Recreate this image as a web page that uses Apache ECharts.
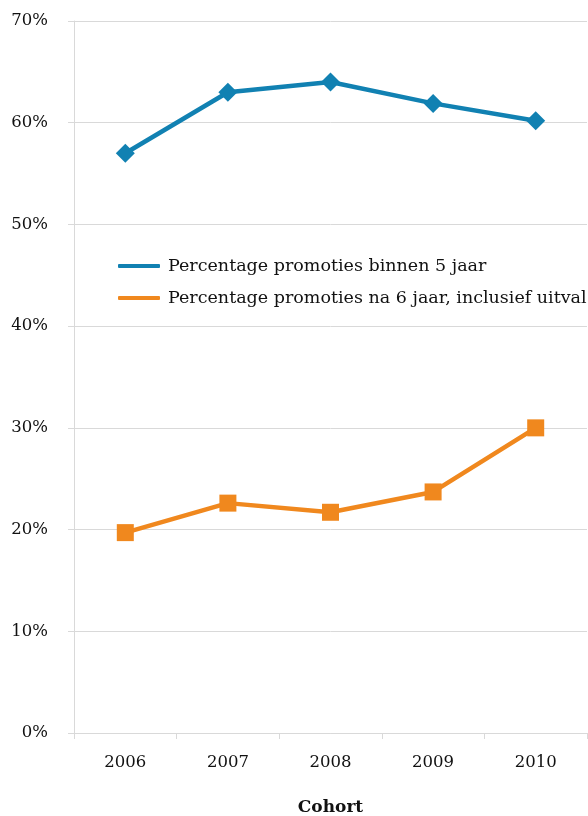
<!DOCTYPE html>
<html>
<head>
<meta charset="utf-8">
<script src="https://cdn.jsdelivr.net/npm/echarts@6/dist/echarts.min.js"></script>
<style>
  html, body { margin: 0; padding: 0; background: #fff; }
  #chart { width: 588px; height: 816px; }
</style>
</head>
<body>
<div id="chart"></div>
<script>
// cohorts on the x axis
const cohorts = ['2006', '2007', '2008', '2009', '2010']
// percentage values per series
const binnen5Jaar = [57.0, 63.0, 64.0, 61.9, 60.2]
const na6Jaar = [19.7, 22.6, 21.7, 23.7, 30.0]
const seriesNames = [
  'Percentage promoties binnen 5 jaar',
  'Percentage promoties na 6 jaar, inclusief uitval'
]

const font = 'DejaVu Serif'
const gridColor = '#d9d9d9'

const chart = echarts.init(document.getElementById('chart'))
chart.setOption({
  animation: false,
  grid: { left: 74, right: 1, top: 21, bottom: 83, containLabel: false, outerBoundsMode: 'none' },
  legend: {
    orient: 'vertical',
    left: 118,
    top: 256,
    padding: 0,
    itemWidth: 42,
    itemHeight: 4,
    itemGap: 12,
    icon: 'roundRect',
    textStyle: { fontFamily: font, fontSize: 17.5, color: '#111', lineHeight: 20, padding: [0, 0, 0, 3] },
    data: seriesNames
  },
  xAxis: {
    type: 'category',
    data: cohorts,
    boundaryGap: true,
    axisLine: { lineStyle: { color: gridColor, width: 1 } },
    axisTick: { show: true, length: 6, lineStyle: { color: gridColor } },
    axisLabel: { fontFamily: font, fontSize: 16.5, color: '#111', margin: 21 },
    name: 'Cohort',
    nameLocation: 'middle',
    nameGap: 66,
    nameTextStyle: { fontFamily: font, fontSize: 17, fontWeight: 'bold', color: '#111' }
  },
  yAxis: {
    type: 'value',
    min: 0,
    max: 70,
    interval: 10,
    axisLine: { show: true, lineStyle: { color: gridColor } },
    axisTick: { show: true, length: 6, lineStyle: { color: gridColor } },
    splitLine: { lineStyle: { color: gridColor } },
    axisLabel: { formatter: '{value}%', fontFamily: font, fontSize: 16.5, color: '#111', margin: 26 }
  },
  series: [
    {
      name: seriesNames[0],
      type: 'line',
      data: binnen5Jaar,
      symbol: 'diamond',
      symbolSize: 19,
      color: '#1181b2',
      lineStyle: { width: 4.5, color: '#1181b2' },
      itemStyle: { color: '#1181b2' }
    },
    {
      name: seriesNames[1],
      type: 'line',
      data: na6Jaar,
      symbol: 'rect',
      symbolSize: 17,
      color: '#f0881e',
      lineStyle: { width: 4.5, color: '#f0881e' },
      itemStyle: { color: '#f0881e' }
    }
  ]
})
</script>
</body>
</html>
